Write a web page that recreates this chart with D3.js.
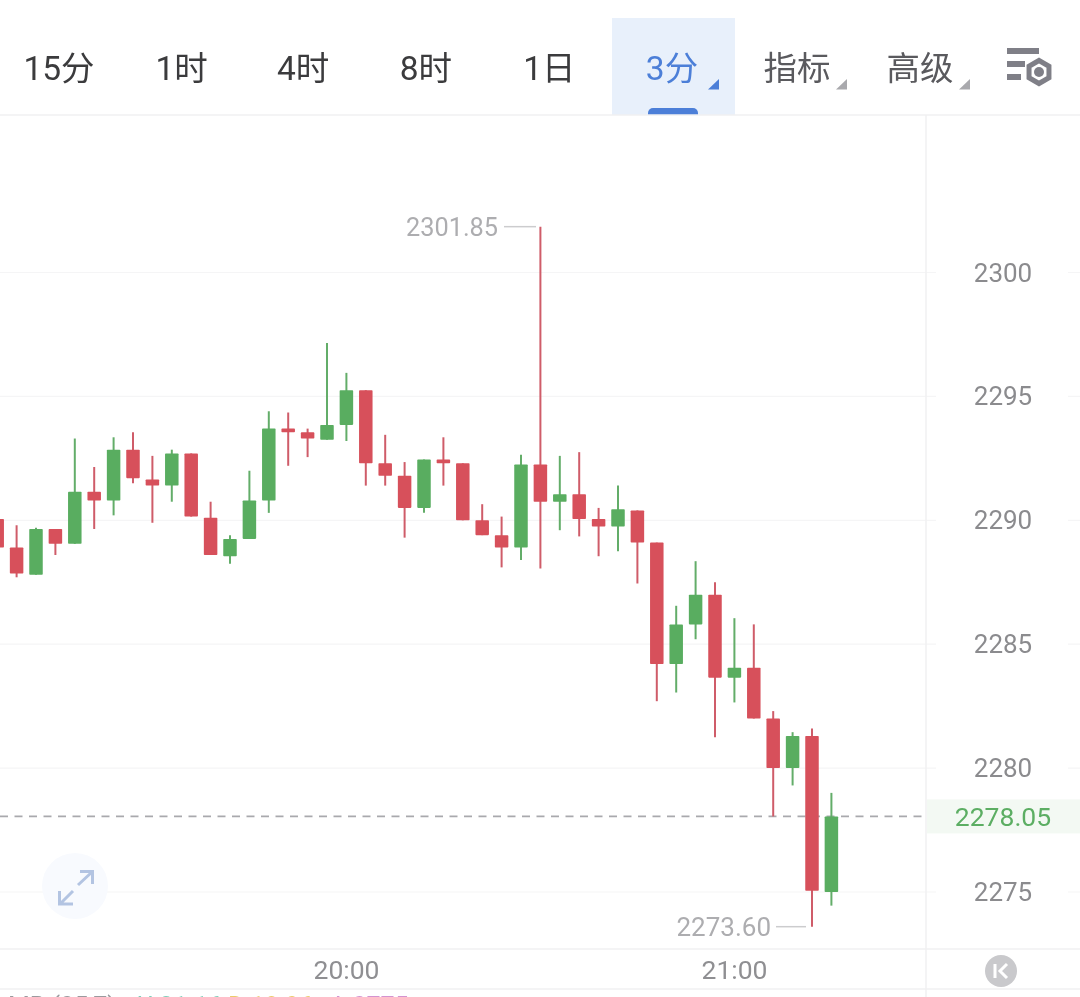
<!DOCTYPE html>
<html lang="zh">
<head>
<meta charset="utf-8">
<title>K线图</title>
<script src="https://cdn.jsdelivr.net/npm/d3@7/dist/d3.min.js"></script>
<style>
html,body{margin:0;padding:0;background:#fff;overflow:hidden}
svg{display:block;filter:blur(.35px)}
text{font-family:Roboto,"Noto Sans CJK SC",sans-serif}
</style>
</head>
<body>
<svg id="c" width="1080" height="997"></svg>
<script>
// ---- data ----
const startTime = "2024-01-01T19:06:00Z";
const stepMinutes = 3;
const opens  = [2290.05,2288.90,2287.80,2289.65,2289.05,2291.15,2290.80,2292.85,2291.65,2291.40,2292.70,2290.10,2288.55,2289.25,2290.80,2293.70,2293.55,2293.25,2293.85,2295.25,2292.30,2291.80,2290.50,2292.45,2292.30,2290.00,2289.40,2288.90,2292.25,2290.75,2291.05,2290.05,2289.75,2290.40,2289.10,2284.20,2285.80,2287.00,2283.65,2284.05,2282.00,2280.00,2281.30,2275.00];
const highs  = [2290.40,2289.80,2289.70,2289.65,2293.30,2292.15,2293.35,2293.55,2292.60,2292.85,2292.70,2290.75,2289.40,2292.00,2294.40,2294.35,2293.70,2297.15,2295.95,2295.25,2293.45,2292.35,2292.45,2293.35,2292.30,2290.65,2290.15,2292.65,2301.85,2292.60,2292.75,2290.50,2291.40,2290.40,2289.10,2286.55,2288.35,2287.50,2286.05,2285.80,2282.30,2281.45,2281.60,2279.00];
const lows   = [2288.40,2287.70,2287.80,2288.60,2289.05,2289.65,2290.20,2291.50,2289.90,2290.75,2290.15,2288.60,2288.25,2289.25,2290.30,2292.20,2292.55,2293.25,2293.20,2291.40,2291.40,2289.30,2290.30,2291.40,2290.00,2289.40,2288.10,2288.40,2288.05,2289.60,2289.35,2288.55,2288.75,2287.45,2282.70,2283.05,2285.20,2281.25,2282.65,2282.00,2278.05,2279.30,2273.60,2274.45];
const closes = [2288.90,2287.85,2289.65,2289.05,2291.15,2290.80,2292.85,2291.70,2291.40,2292.70,2290.15,2288.60,2289.25,2290.80,2293.70,2293.55,2293.30,2293.85,2295.25,2292.30,2291.80,2290.50,2292.45,2292.30,2290.00,2289.40,2288.90,2292.25,2290.75,2291.05,2290.05,2289.75,2290.45,2289.10,2284.20,2285.80,2287.00,2283.65,2284.05,2282.00,2280.00,2281.30,2275.05,2278.05];
const priceTicks = [2275,2280,2285,2290,2295,2300];
const timeTicks = ["2024-01-01T20:00:00Z","2024-01-01T21:00:00Z"];
const maxLabel = 2301.85, minLabel = 2273.60, lastPrice = 2278.05;
const plainTabs = ["15分","1时","4时","8时","1日","3分"];
const menuTabs = ["指标","高级"];
const activeTab = "3分";
const clippedLegend = ["MB (25,7)","U:31.16","D:18.96","A:0775"];

// ---- scales ----
const svg = d3.select("#c");
const W = 1080, paneR = 926, headB = 115, axisT = 949, axisB = 989;
const y = d3.scaleLinear().domain([2275,2300]).range([892,272.5]);
const x = d3.scaleUtc().domain([new Date(timeTicks[0]),new Date(timeTicks[1])]).range([346,734]);
const t0 = +new Date(startTime);
const candles = opens.map((o,i)=>({t:new Date(t0+i*stepMinutes*60000),o,h:highs[i],l:lows[i],c:closes[i]}));
const lineC = "#f1f1f2", red = "#d7505b", green = "#59ad60", redW = "#cf5c69", greenW = "#63ad69";

// ---- header ----
const head = svg.append("g");
const tabX = d3.scalePoint().domain(plainTabs).range([59,672]);
const menuX = d3.scalePoint().domain(menuTabs).range([797,920]);
head.append("rect").attr("x",612).attr("y",18).attr("width",123).attr("height",97).attr("fill","#e8f0fb");
head.append("path").attr("d","M648,115V113a5,5 0 0 1 5,-5H693a5,5 0 0 1 5,5V115Z").attr("fill","#4c7fd8");
head.selectAll("text.tab").data(plainTabs).join("text").attr("class","tab")
  .attr("x",d=>tabX(d)-(d==="4时"||d==="8时"?1:0)).attr("y",80).attr("text-anchor","middle").attr("font-size",33.5)
  .attr("fill",d=>d===activeTab?"#4c7fd8":"#3b3b3d").text(d=>d);
head.selectAll("text.menu").data(menuTabs).join("text").attr("class","menu")
  .attr("x",d=>menuX(d)).attr("y",80).attr("text-anchor","middle").attr("font-size",33.5)
  .attr("fill","#5a5a5e").text(d=>d);
const tri = (r,c)=>head.append("path").attr("d",`M${r},79V89.5H${r-11}Z`).attr("fill",c);
tri(719,"#4c7fd8");
menuTabs.forEach(d=>tri(menuX(d)+50,"#a9a9ad"));
// settings icon
const ic = head.append("g").attr("fill","#7f7f87");
ic.append("rect").attr("x",1007).attr("y",48).attr("width",32).attr("height",6);
ic.append("rect").attr("x",1007).attr("y",61).attr("width",18).attr("height",6);
ic.append("rect").attr("x",1007).attr("y",74).attr("width",14).attr("height",6);
const hex = d3.range(6).map(i=>{const a=Math.PI/3*i-Math.PI/2;return [1039+11.5*Math.cos(a),72+11.5*Math.sin(a)];});
head.append("polygon").attr("points",hex.join(" ")).attr("fill","#fff").attr("stroke","#7f7f87").attr("stroke-width",5);
head.append("circle").attr("cx",1039).attr("cy",72).attr("r",5).attr("fill","#7f7f87");

// ---- grid & frame ----
const grid = svg.append("g");
grid.selectAll("line.g").data(priceTicks).join("line").attr("class","g")
  .attr("x1",0).attr("x2",W).attr("y1",d=>y(d)).attr("y2",d=>y(d)).attr("stroke","#f5f5f6").attr("stroke-width",1.2);
grid.selectAll("rect.m").data(priceTicks).join("rect").attr("class","m")
  .attr("x",936).attr("width",132).attr("y",d=>y(d)-2).attr("height",4).attr("fill","#fff");
[[0,W,headB,headB],[0,W,axisT,axisT],[0,W,axisB,axisB],[paneR,paneR,headB,997]].forEach(l=>
  grid.append("line").attr("x1",l[0]).attr("x2",l[1]).attr("y1",l[2]).attr("y2",l[3]).attr("stroke",lineC).attr("stroke-width",1.5));

// ---- last price ----
svg.append("rect").attr("x",paneR+1).attr("y",y(lastPrice)-17).attr("width",W-paneR).attr("height",34).attr("fill","#f3f9f3");
svg.append("line").attr("x1",0).attr("x2",paneR).attr("y1",y(lastPrice)).attr("y2",y(lastPrice))
  .attr("stroke","#a9a9ad").attr("stroke-width",1.6).attr("stroke-dasharray","8 6.5");

// ---- candles ----
const bw = 13.5;
const g = svg.append("g").selectAll("g").data(candles).join("g");
g.append("line").attr("x1",d=>x(d.t)+.4).attr("x2",d=>x(d.t)+.4).attr("y1",d=>y(d.h)).attr("y2",d=>y(d.l))
  .attr("stroke",d=>d.c>=d.o?greenW:redW).attr("stroke-width",2);
g.append("rect").attr("x",d=>x(d.t)+.4-bw/2).attr("width",bw)
  .attr("y",d=>y(Math.max(d.o,d.c))).attr("height",d=>Math.max(2,Math.abs(y(d.o)-y(d.c))))
  .attr("rx",.8).attr("fill",d=>d.c>=d.o?green:red);

// ---- axes ----
const yAxis = svg.append("g").attr("transform",`translate(1003,0)`)
  .call(d3.axisRight(y).tickValues(priceTicks).tickSize(0).tickPadding(0).tickFormat(d3.format("d")));
yAxis.select(".domain").remove();
yAxis.selectAll("text").attr("text-anchor","middle").attr("font-size",26).attr("fill","#8b8b8e")
  .attr("font-family",'Roboto,"Noto Sans CJK SC",sans-serif').attr("dy",".33em");
const xAxis = svg.append("g").attr("transform",`translate(0,${axisT})`)
  .call(d3.axisBottom(x).tickValues(timeTicks.map(d=>new Date(d))).tickSize(0).tickPadding(0).tickFormat(d3.utcFormat("%H:%M")));
xAxis.select(".domain").remove();
xAxis.selectAll("text").attr("font-size",26.5).attr("fill","#8f8f92").attr("dy","30")
  .attr("font-family",'Roboto,"Noto Sans CJK SC",sans-serif');

// ---- labels ----
const fmt = d3.format(".2f");
svg.append("text").attr("x",1003).attr("y",y(lastPrice)+9.5).attr("text-anchor","middle").attr("font-size",26.5).attr("fill","#5cae63").text(fmt(lastPrice));
const anno = (v,xr,lx1,lx2,fs)=>{
  svg.append("text").attr("x",xr).attr("y",y(v)+9.5).attr("text-anchor","end").attr("font-size",fs).attr("fill","#adadb0").text(fmt(v));
  svg.append("line").attr("x1",lx1).attr("x2",lx2).attr("y1",y(v)).attr("y2",y(v)).attr("stroke","#ccccce").attr("stroke-width",1.5);
};
anno(maxLabel,498,504,536,25.3);
anno(minLabel,771,776,806,26);

// ---- expand button ----
svg.append("circle").attr("cx",75).attr("cy",886).attr("r",33).attr("fill","#f8fafe");
const ar = svg.append("g").attr("fill","none").attr("stroke","#b3c4e2").attr("stroke-width",3);
ar.append("path").attr("d","M78,885L92,872M80,871.5H92.5V884");
ar.append("path").attr("d","M73,891L60,904M59.5,891V904H73");

// ---- K button ----
svg.append("circle").attr("cx",1001).attr("cy",971).attr("r",16).attr("fill","#c9c9cc");
svg.append("path").attr("d","M995,964V978M1007,964L1000,971L1007,978").attr("fill","none").attr("stroke","#fff").attr("stroke-width",3);

// ---- clipped legend at the very bottom ----
const legendX = d3.scaleOrdinal().domain(clippedLegend).range([8,137,228,330]);
const legendC = d3.scaleOrdinal().domain(clippedLegend).range(["#9a9a9e","#7fcdb8","#eccb6a","#d493d0"]);
svg.selectAll("text.lg").data(clippedLegend).join("text").attr("class","lg")
  .attr("x",d=>legendX(d)).attr("y",1015).attr("font-size",25).attr("fill",d=>legendC(d)).text(d=>d);
</script>
</body>
</html>
